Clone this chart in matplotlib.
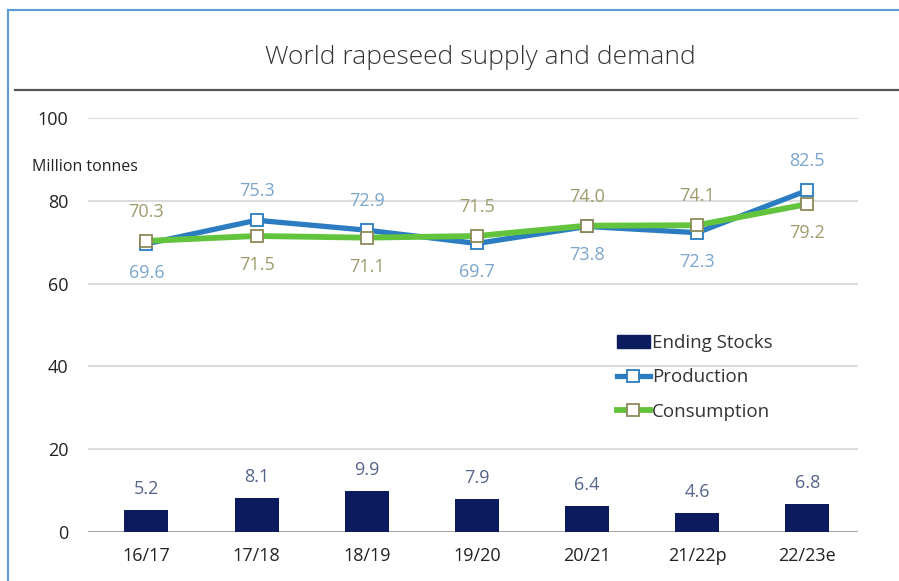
import matplotlib
matplotlib.use("Agg")
import matplotlib.pyplot as plt
from matplotlib.lines import Line2D
from matplotlib.patches import Patch

plt.rcParams['font.family'] = ['Open Sans', 'DejaVu Sans']

categories = ["16/17", "17/18", "18/19", "19/20", "20/21", "21/22p", "22/23e"]
ending_stocks = [5.2, 8.1, 9.9, 7.9, 6.4, 4.6, 6.8]
production = [69.6, 75.3, 72.9, 69.7, 73.8, 72.3, 82.5]
consumption = [70.3, 71.5, 71.1, 71.5, 74.0, 74.1, 79.2]
yticks = [0, 20, 40, 60, 80, 100]

navy = "#0b1b5e"
blue = "#2b7cc0"
green = "#62c43c"
blue_lab = "#7aa5cc"
olive_lab = "#9d9b6c"
olive_edge = "#8c8a58"

W, H = 899, 581
fig = plt.figure(figsize=(W / 100, H / 100), dpi=100)

# frame lines
fig.add_artist(Line2D([8 / W, 8 / W], [0, 1 - 10 / H], color="#5b9bd5", lw=1.5))
fig.add_artist(Line2D([8 / W, 1], [1 - 10 / H, 1 - 10 / H], color="#5b9bd5", lw=1.5))
fig.add_artist(Line2D([15 / W, 1], [1 - 90 / H, 1 - 90 / H], color="#555555", lw=1.6))

fig.text(480 / W, 1 - 57 / H, "World rapeseed supply and demand", ha="center", va="center",
         fontsize=19, fontweight="light", color="#333333")

ax = fig.add_axes([88 / W, (H - 532) / H, (858 - 88) / W, (532 - 118) / H])
x = list(range(len(categories)))

ax.bar(x, ending_stocks, width=0.4, color=navy, zorder=3)
ax.plot(x, production, color=blue, lw=3.8, marker="s", ms=8, mfc="white",
        mec=blue, mew=1.3, zorder=4, solid_capstyle="round")
ax.plot(x, consumption, color=green, lw=4.2, marker="s", ms=8, mfc="white",
        mec=olive_edge, mew=1.3, zorder=5, solid_capstyle="round")

for i in x:
    ax.annotate(f"{ending_stocks[i]:.1f}", (i, ending_stocks[i]), xytext=(0, 21),
                textcoords="offset pixels", ha="center", va="center",
                fontsize=13, color="#55658a")
    p, c = production[i], consumption[i]
    p_up = p > c
    ax.annotate(f"{p:.1f}", (i, p), xytext=(0, 29 if p_up else -29),
                textcoords="offset pixels", ha="center", va="center",
                fontsize=13, color=blue_lab)
    ax.annotate(f"{c:.1f}", (i, c), xytext=(0, -29 if p_up else 29),
                textcoords="offset pixels", ha="center", va="center",
                fontsize=13, color=olive_lab)

ax.set_xlim(-0.53, 6.46)
ax.set_ylim(0, 100)
ax.set_yticks(yticks)
ax.set_xticks(x)
ax.set_xticklabels(categories)
ax.tick_params(length=0, labelsize=13, colors="#222222")
ax.tick_params(axis="y", pad=14)
ax.tick_params(axis="x", pad=11)
for s in ax.spines.values():
    s.set_visible(False)
for t in yticks[1:]:
    ax.axhline(t, color="#dcdcdc", lw=1.5, zorder=1)
ax.axhline(0, color="#a8a8a8", lw=1.5, zorder=2)

fig.text(32 / W, 1 - 167 / H, "Million tonnes", ha="left", va="center", fontsize=11.5, color="#222222")

handles = [
    Patch(facecolor=navy, edgecolor=navy),
    Line2D([], [], color=blue, lw=3.8, marker="s", ms=8, mfc="white", mec=blue, mew=1.3),
    Line2D([], [], color=green, lw=4.2, marker="s", ms=8, mfc="white", mec=olive_edge, mew=1.3),
]
leg = ax.legend(handles, ["Ending Stocks", "Production", "Consumption"],
                loc="upper left", bbox_to_anchor=((617 - 88) / (858 - 88), (532 - 334) / (532 - 118)),
                frameon=False, fontsize=13.5, handlelength=1.75, handletextpad=0.1,
                labelspacing=0.87, borderaxespad=0, borderpad=0)
for t in leg.get_texts():
    t.set_color("#333333")

fig.savefig("out.png", dpi=100)
